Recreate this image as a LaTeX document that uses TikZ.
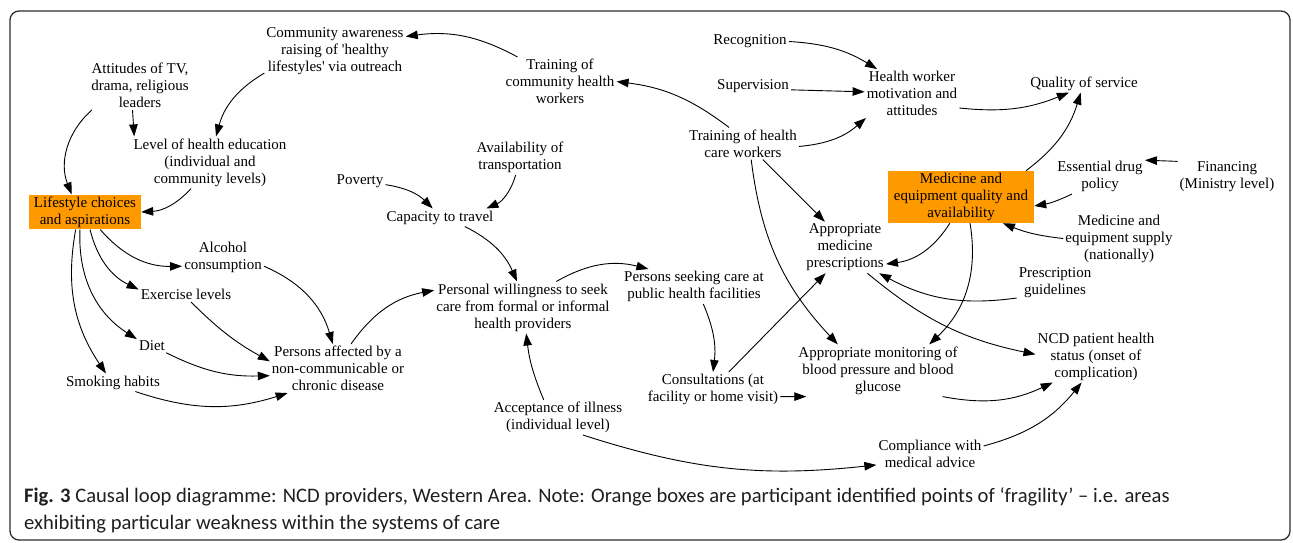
\documentclass[tikz,border=0pt]{standalone}
\usepackage{fontspec}
\setmainfont{Liberation Serif}
\newfontfamily\capfont{Carlito}
\usetikzlibrary{arrows.meta}
\definecolor{boxorange}{RGB}{255,153,0}
\definecolor{framegray}{RGB}{45,45,45}
\tikzset{
  lbl/.style={align=center, font=\fontsize{15}{17}\selectfont, inner sep=2pt, yshift=-1.5pt},
  hot/.style={lbl, fill=boxorange},
  link/.style={line width=0.9pt, -{Triangle[length=12pt,width=8.5pt]}},
}
\begin{document}
\begin{tikzpicture}[x=1pt,y=1pt]
\useasboundingbox (0,0) rectangle (1293,-542);
\draw[framegray, line width=1.3pt, rounded corners=9pt] (10,-11) rectangle (1290,-540);

% nodes
\node[lbl] (aware) at (335,-50) {Community awareness\\raising of \textquotesingle healthy\\lifestyles\textquotesingle{} via outreach};
\node[lbl] (attit) at (140,-84) {Attitudes of TV,\\drama, religious\\leaders};
\node[lbl] (levhe) at (210,-161) {Level of health education\\(individual and\\community levels)};
\node[hot, minimum width=112pt, minimum height=34pt] (life) at (85,-210.5) {Lifestyle choices\\and aspirations};
\node[lbl] (alc) at (223,-256) {Alcohol\\consumption};
\node[lbl] (exer) at (186,-293) {Exercise levels};
\node[lbl] (diet) at (152,-344) {Diet};
\node[lbl] (smok) at (113,-381) {Smoking habits};
\node[lbl] (paff) at (338,-367) {Persons affected by a\\non-communicable or\\chronic disease};
\node[lbl] (pov) at (360,-180) {Poverty};
\node[lbl] (avail) at (520,-156) {Availability of\\transportation};
\node[lbl] (cap) at (440,-216) {Capacity to travel};
\node[lbl] (tchw) at (560,-80) {Training of\\community health\\workers};
\node[lbl] (pw) at (523,-306) {Personal willingness to seek\\care from formal or informal\\health providers};
\node[lbl] (psc) at (694,-285) {Persons seeking care at\\public health facilities};
\node[lbl] (cons) at (713,-388) {Consultations (at\\facility or home visit)};
\node[lbl] (acc) at (558,-416) {Acceptance of illness\\(individual level)};
\node[lbl] (rec) at (750,-40) {Recognition};
\node[lbl] (sup) at (753,-85) {Supervision};
\node[lbl] (hwm) at (912,-92) {Health worker\\motivation and\\attitudes};
\node[lbl] (thcw) at (743,-142) {Training of health\\care workers};
\node[lbl] (qos) at (1084,-82) {Quality of service};
\node[hot, minimum width=146pt, minimum height=52pt] (med) at (961,-195.5) {Medicine and\\equipment quality and\\availability};
\node[lbl] (ess) at (1100,-175) {Essential drug\\policy};
\node[lbl] (fin) at (1227,-175) {Financing\\(Ministry level)};
\node[lbl] (msup) at (1119,-237) {Medicine and\\equipment supply\\(nationally)};
\node[lbl] (amp) at (845,-246) {Appropriate\\medicine\\prescriptions};
\node[lbl] (pg) at (1055,-281) {Prescription\\guidelines};
\node[lbl] (ncd) at (1096,-355) {NCD patient health\\status (onset of\\complication)};
\node[lbl] (amon) at (878,-369) {Appropriate monitoring of\\blood pressure and blood\\glucose};
\node[lbl] (comp) at (930,-452) {Compliance with\\medical advice};

% connectors
\draw[link] (tchw.150) to[bend right=18] (aware.12);
\draw[link] (aware.197) to[bend right=22] (levhe.77);
\draw[link] (attit.253) -- (levhe.161);
\draw[link] (attit.207) to[bend right=35] (life.127);
\draw[link] (levhe.234) to[bend left=22] (life.east);
\draw[link] (life.311) to[bend right=25] (alc.192);
\draw[link] (life.286) to[bend right=25] (exer.174);
\draw[link] (life.254) to[bend right=30] (diet.157);
\draw[link] (life.242) to[bend right=22] (smok.128);
\draw[link] (alc.348) to[bend left=25] (paff.102);
\draw[link] (exer.304) to[bend right=8] (paff.174);
\draw[link] (diet.333) to[bend right=14] (paff.186);
\draw[link] (smok.338) to[bend right=18] (paff.206);
\draw[link] (paff.62) to[bend left=22] (pw.169);
\draw[link] (pov.353) to[bend left=18] (cap.129);
\draw[link] (avail.256) to[bend left=25] (cap.11);
\draw[link] (cap.340) to[bend left=20] (pw.103);
\draw[link] (pw.38) to[bend left=22] (psc.159);
\draw[link] (psc.298) to[bend left=15] (cons.north);
\draw[link] (acc.129) to[bend left=8] (pw.277);
\draw[link] (acc.325) to[bend right=12] (comp.192);
\draw[link] (cons.48) -- (amp.233);
\draw[link] (cons.354) -- (amon.200);
\draw[link] (thcw.131) to[bend right=15] (tchw.east);
\draw[link] (thcw.357) to[bend right=18] (hwm.208);
\draw[link] (thcw.321) -- (amp.128);
\draw[link] (thcw.297) to[bend right=18] (amon.147);
\draw[link] (rec.east) to[bend left=14] (hwm.145);
\draw[link] (sup.355) -- (hwm.178);
\draw[link] (hwm.343) to[bend right=14] (qos.211);
\draw[link] (med.22) to[bend right=18] (qos.250);
\draw[link] (ess.212) to[bend left=8] (med.353);
\draw[link] (fin.163) -- (ess.20);
\draw[link] (msup.west) to[bend left=8] (med.328);
\draw[link] (med.247) to[bend left=25] (amp.338);
\draw[link] (med.289) to[bend left=28] (amon.27);
\draw[link] (pg.202) to[bend left=18] (amp.323);
\draw[link] (amp.311) to[bend right=14] (ncd.178);
\draw[link] (amon.338) to[bend right=18] (ncd.211);
\draw[link] (comp.8) to[bend right=18] (ncd.241);

% caption
\node[anchor=base west, inner sep=0pt, font=\capfont\fontsize{20.6}{27}\selectfont, align=left, text=black!88]
  (cap1) at (24,-502) {\textbf{Fig. 3} Causal loop diagramme: NCD providers, Western Area. Note: Orange boxes are participant identified points of ‘fragility’ – i.e. areas};
\node[anchor=base west, inner sep=0pt, font=\capfont\fontsize{20.6}{27}\selectfont, align=left, text=black!88]
  (cap2) at (24,-529) {exhibiting particular weakness within the systems of care};
\end{tikzpicture}
\end{document}
